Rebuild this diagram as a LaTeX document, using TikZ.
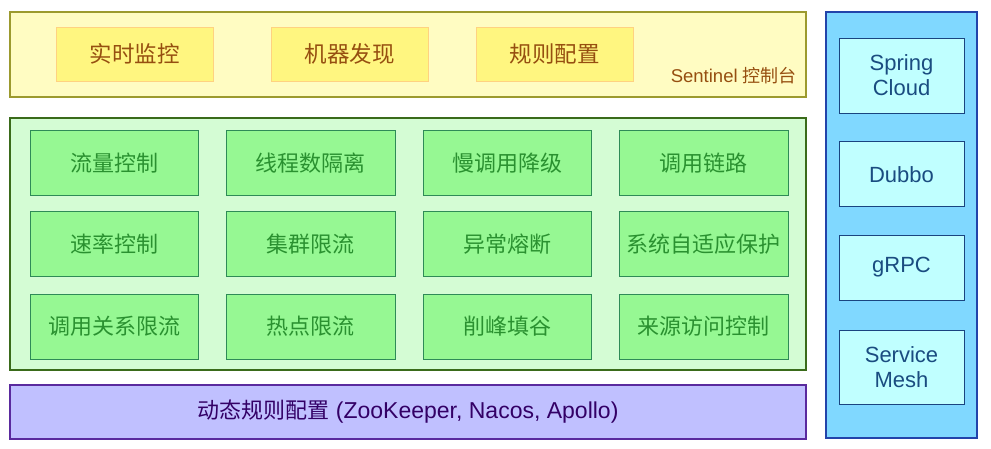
\documentclass[tikz,border=0pt]{standalone}
\usepackage{fontspec}
\setmainfont{Liberation Sans}
\newfontfamily\cjk{Noto Sans CJK SC}
\definecolor{yofill}{HTML}{FFFCC2}
\definecolor{yodraw}{HTML}{9C9A2E}
\definecolor{yifill}{HTML}{FFF680}
\definecolor{yidraw}{HTML}{FFD280}
\definecolor{ytext}{HTML}{964F10}
\definecolor{gofill}{HTML}{D4FCD4}
\definecolor{godraw}{HTML}{3A6B1A}
\definecolor{gifill}{HTML}{96F893}
\definecolor{gidraw}{HTML}{2E8B57}
\definecolor{gtext}{HTML}{2A9130}
\definecolor{pfill}{HTML}{C0C0FF}
\definecolor{pdraw}{HTML}{5A2A9E}
\definecolor{ptext}{HTML}{330066}
\definecolor{bofill}{HTML}{80D8FF}
\definecolor{bodraw}{HTML}{2244AA}
\definecolor{bifill}{HTML}{C0FFFF}
\definecolor{bidraw}{HTML}{1A4480}
\definecolor{btext}{HTML}{1A4C80}
\begin{document}
\begin{tikzpicture}[x=1pt,y=-1pt,
  base/.style={anchor=north west, inner sep=0pt, outer sep=0pt},
  youter/.style={base, fill=yofill, draw=yodraw, line width=1.2pt, minimum width=796pt, minimum height=85pt},
  ybox/.style={base, fill=yifill, draw=yidraw, line width=1pt, minimum width=157.5pt, minimum height=54pt, text=ytext, font=\cjk\fontsize{22.5}{25}\selectfont},
  gouter/.style={base, fill=gofill, draw=godraw, line width=1.2pt, minimum width=796pt, minimum height=252pt},
  gbox/.style={base, fill=gifill, draw=gidraw, line width=1pt, minimum width=168.5pt, minimum height=65pt, text=gtext, font=\cjk\fontsize{22}{25}\selectfont},
  pbox/.style={base, fill=pfill, draw=pdraw, line width=1.2pt, minimum width=796pt, minimum height=54pt, text=ptext, font=\fontsize{23}{26}\selectfont},
  bouter/.style={base, fill=bofill, draw=bodraw, line width=1.2pt, minimum width=151pt, minimum height=426pt},
  bbox/.style={base, fill=bifill, draw=bidraw, line width=1pt, minimum width=125pt, minimum height=65pt, text=btext, align=center, font=\fontsize{22}{25}\selectfont}
]
\useasboundingbox (0,0) rectangle (991,448);
\fill[white] (0,0) rectangle (991,448);

% Sentinel console
\node[youter] (console) at (10,12) {};
\node[ybox] (monitor) at (56,27) {实时监控};
\node[ybox] (discover) at (271,27) {机器发现};
\node[ybox] (rules) at (476,27) {规则配置};
\node[anchor=base east, inner sep=0pt, text=ytext, font=\fontsize{18.5}{21}\selectfont] (consolelabel) at (797,82.5) {Sentinel {\cjk\fontsize{18}{21}\selectfont 控制台}};

% core features
\node[gouter] (core) at (10,118) {};
\node[gbox] (g11) at (30,130.7) {流量控制};
\node[gbox] (g12) at (226.5,130.7) {线程数隔离};
\node[gbox] (g13) at (423,130.7) {慢调用降级};
\node[gbox] (g14) at (619.5,130.7) {调用链路};
\node[gbox] (g21) at (30,211.7) {速率控制};
\node[gbox] (g22) at (226.5,211.7) {集群限流};
\node[gbox] (g23) at (423,211.7) {异常熔断};
\node[gbox] (g24) at (619.5,211.7) {系统自适应保护};
\node[gbox] (g31) at (30,294) {调用关系限流};
\node[gbox] (g32) at (226.5,294) {热点限流};
\node[gbox] (g33) at (423,294) {削峰填谷};
\node[gbox] (g34) at (619.5,294) {来源访问控制};

% dynamic rules
\node[pbox] (dyn) at (10,385) {{\cjk\fontsize{22}{26}\selectfont 动态规则配置} (ZooKeeper, Nacos, Apollo)};

% frameworks
\node[bouter] (frameworks) at (826,12) {};
\node[bbox, minimum height=75pt] (spring) at (839,38) {Spring\\Cloud};
\node[bbox] (dubbo) at (839,141.7) {Dubbo};
\node[bbox] (grpc) at (839,235) {gRPC};
\node[bbox, minimum height=74.5pt] (mesh) at (839,330) {Service\\Mesh};
\end{tikzpicture}
\end{document}
